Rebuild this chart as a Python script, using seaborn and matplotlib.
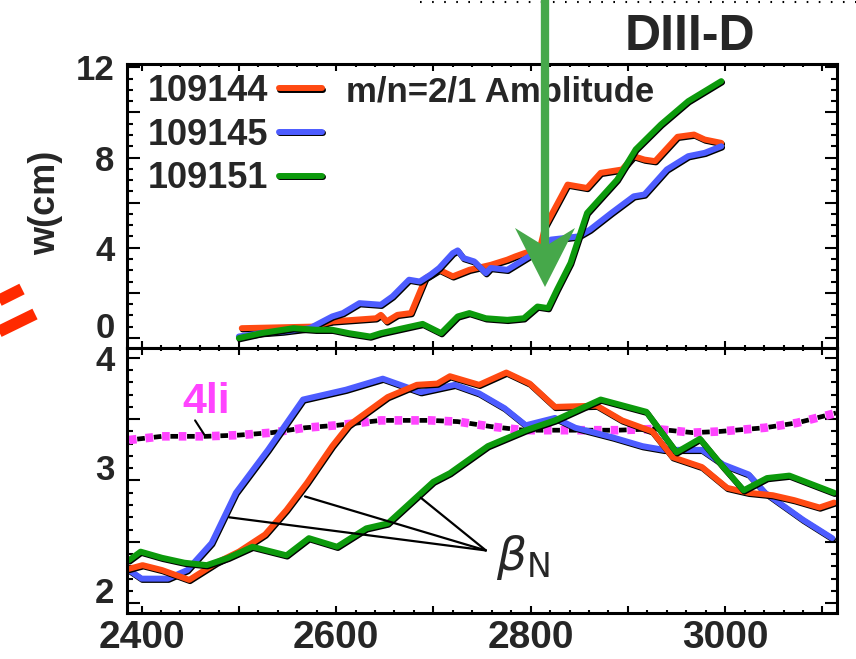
import matplotlib
matplotlib.use("Agg")
import matplotlib.pyplot as plt
import matplotlib.patheffects as pe
from matplotlib.lines import Line2D
from matplotlib.patches import Polygon
from matplotlib.ticker import MultipleLocator, FuncFormatter
import seaborn as sns

# ---------- dados: amplitude da ilha m/n=2/1 (painel de cima) ----------
t_w144 = [2503, 2576, 2596, 2641, 2646, 2652, 2663, 2677, 2692, 2706, 2720, 2737, 2759, 2776,
          2784, 2799, 2810, 2815, 2838, 2858, 2872, 2894, 2906, 2917, 2928, 2951, 2968, 2979, 2996]
w144 = [0.43, 0.50, 0.73, 0.87, 1.02, 0.73, 1.02, 1.10, 2.65, 3.02, 2.73, 3.02, 3.24, 3.47,
        3.61, 3.84, 4.06, 4.95, 6.80, 6.65, 7.32, 7.47, 8.06, 7.91, 7.84, 8.92, 9.02, 8.80, 8.65]

t_w145 = [2500, 2523, 2545, 2573, 2596, 2607, 2624, 2646, 2658, 2675, 2686, 2697, 2706, 2720,
          2725, 2731, 2742, 2754, 2759, 2776, 2793, 2804, 2815, 2821, 2849, 2861, 2883, 2906,
          2917, 2940, 2962, 2979, 2996]
w145 = [0.06, 0.21, 0.28, 0.43, 0.95, 1.10, 1.54, 1.47, 1.84, 2.58, 2.50, 2.80, 3.10, 3.76,
        3.88, 3.54, 3.39, 2.87, 3.10, 3.02, 3.47, 3.76, 4.13, 4.36, 4.50, 4.80, 5.54, 6.28,
        6.36, 7.47, 8.06, 8.21, 8.50]

t_w151 = [2500, 2523, 2556, 2579, 2596, 2613, 2635, 2646, 2669, 2689, 2708, 2725, 2737, 2754,
          2776, 2793, 2807, 2818, 2827, 2841, 2858, 2889, 2908, 2934, 2962, 2996]
w151 = [-0.01, 0.21, 0.43, 0.36, 0.36, 0.21, 0.06, 0.21, 0.43, 0.62, 0.21, 0.95, 1.10, 0.87,
        0.80, 0.87, 1.39, 1.32, 2.13, 3.32, 5.54, 7.02, 8.36, 9.47, 10.5, 11.39]

# ---------- dados: beta_N e 4li (painel de baixo) ----------
t_b144 = [2387, 2401, 2421, 2449, 2477, 2500, 2527, 2549, 2570, 2596, 2613, 2653, 2683, 2704,
          2717, 2747, 2775, 2799, 2825, 2868, 2894, 2925, 2946, 2976, 3002, 3024, 3049, 3071,
          3097, 3112]
b144 = [2.28, 2.31, 2.27, 2.19, 2.33, 2.42, 2.56, 2.76, 2.98, 3.28, 3.45, 3.68, 3.78, 3.79,
        3.85, 3.78, 3.88, 3.79, 3.60, 3.61, 3.49, 3.40, 3.19, 3.11, 2.94, 2.90, 2.88, 2.84,
        2.78, 2.82]

t_b145 = [2387, 2400, 2427, 2447, 2472, 2497, 2530, 2566, 2610, 2648, 2687, 2722, 2747, 2773,
          2795, 2825, 2846, 2885, 2915, 2937, 2976, 2998, 3024, 3041, 3080, 3110]
b145 = [2.27, 2.20, 2.20, 2.27, 2.49, 2.90, 3.25, 3.66, 3.74, 3.83, 3.72, 3.78, 3.71, 3.59,
        3.45, 3.51, 3.43, 3.35, 3.28, 3.25, 3.25, 3.13, 3.05, 2.90, 2.68, 2.53]

t_b151 = [2387, 2399, 2421, 2444, 2467, 2489, 2514, 2549, 2572, 2601, 2631, 2653, 2700, 2717,
          2756, 2795, 2825, 2872, 2919, 2950, 2974, 2998, 3019, 3043, 3066, 3112]
b151 = [2.35, 2.42, 2.37, 2.33, 2.31, 2.37, 2.46, 2.39, 2.53, 2.46, 2.61, 2.65, 2.99, 3.06,
        3.28, 3.41, 3.49, 3.66, 3.56, 3.23, 3.34, 3.11, 2.92, 3.02, 3.04, 2.90]

t_li = [2387, 2421, 2466, 2500, 2534, 2568, 2601, 2646, 2697, 2725, 2759, 2793, 2843, 2889,
        2928, 2967, 2995, 3041, 3074, 3114]
li4 = [3.33, 3.36, 3.36, 3.37, 3.39, 3.43, 3.45, 3.49, 3.49, 3.48, 3.44, 3.41, 3.41, 3.41,
       3.42, 3.39, 3.40, 3.43, 3.47, 3.55]

disparos = ["109144", "109145", "109151"]
cores = ["#ff4a12", "#4d5cff", "#0c9a0c"]

sns.set_style("ticks")
plt.rcParams["font.family"] = ["Liberation Sans Narrow", "Liberation Sans", "DejaVu Sans"]
plt.rcParams["lines.scale_dashes"] = False
plt.rcParams["mathtext.fontset"] = "dejavusans"

W, H = 856, 659
def px(x, y):
    return (x / W, 1 - y / H)

fig = plt.figure(figsize=(W / 100, H / 100), dpi=100)
ax1 = fig.add_axes([127 / W, 1 - 348 / H, 710 / W, 284 / H])
ax2 = fig.add_axes([127 / W, 1 - 613 / H, 710 / W, 265 / H])

sombra = [pe.SimpleLineShadow(offset=(0.6, -0.9), shadow_color="black", alpha=1.0), pe.Normal()]

# painel de cima
for t, w, lab, c in zip([t_w144, t_w145, t_w151], [w144, w145, w151], disparos, cores):
    sns.lineplot(x=t, y=w, ax=ax1, color=c, linewidth=4.3, label=lab, path_effects=sombra)

# painel de baixo: 4li pontilhado (magenta sobre preto)
ax2.plot(t_li, li4, color="black", lw=3.4, linestyle=(6.0, (5.5, 6.5)))
ax2.plot(t_li, li4, color="#ff44ff", lw=6.2, linestyle=(0, (5.5, 6.5)))
for t, b, c in zip([t_b145, t_b144, t_b151], [b145, b144, b151], [cores[1], cores[0], cores[2]]):
    sns.lineplot(x=t, y=b, ax=ax2, color=c, linewidth=4.3, path_effects=sombra, legend=False)

# legenda
h, l = ax1.get_legend_handles_labels()
ax1.legend(h, l, loc="upper left", bbox_to_anchor=(0.029, 0.965), markerfirst=False,
           frameon=False, borderpad=0, borderaxespad=0, handlelength=1.2,
           handletextpad=0.3, labelspacing=0.24,
           prop=dict(weight="bold", size=26))
ax1.text(0.308, 0.901, "m/n=2/1 Amplitude", transform=ax1.transAxes, fontsize=25,
         fontweight="bold", va="center", ha="left")

# eixos
for ax in (ax1, ax2):
    ax.set_xlim(2385, 3115)
    ax.set_xlabel("")
    ax.set_ylabel("")
    ax.xaxis.set_major_locator(MultipleLocator(100))
    ax.xaxis.set_minor_locator(MultipleLocator(20))
    ax.xaxis.set_major_formatter(FuncFormatter(lambda v, p: f"{v:.0f}" if round(v) % 200 == 0 else ""))
    ax.tick_params(which="both", direction="in", top=True, right=True, width=1.5, color="black")
    ax.tick_params(axis="y", which="major", length=9, pad=9, labelsize=25)
    ax.tick_params(axis="y", which="minor", length=4.5)
    ax.tick_params(axis="x", which="major", length=5, pad=5, labelsize=28)
    ax.tick_params(axis="x", which="minor", length=2.5)
    for sp in ax.spines.values():
        sp.set_linewidth(2.2)
        sp.set_color("black")

ax1.set_ylim(-0.45, 12.15)
ax1.yaxis.set_major_locator(MultipleLocator(2))
ax1.yaxis.set_minor_locator(MultipleLocator(0.5))
ax1.yaxis.set_major_formatter(FuncFormatter(lambda v, p: f"{v:.0f}" if round(v) % 4 == 0 else ""))
ax1.tick_params(labelbottom=False)

ax2.set_ylim(1.92, 4.08)
ax2.yaxis.set_major_locator(MultipleLocator(0.5))
ax2.yaxis.set_minor_locator(MultipleLocator(0.1))
ax2.yaxis.set_major_formatter(FuncFormatter(lambda v, p: f"{v:.0f}" if abs(v - round(v)) < 1e-6 else ""))

fig.canvas.draw()
for ax in (ax1, ax2):
    for lbl in ax.get_xticklabels() + ax.get_yticklabels():
        lbl.set_fontweight("bold")
# rótulos do eixo y deslocados como no original
for lbl in ax1.get_yticklabels():
    if lbl.get_text() == "0":
        lbl.set_va("baseline")
for lbl in ax2.get_yticklabels():
    if lbl.get_text() in ("2", "3"):
        lbl.set_va("baseline")

# anotações do painel de baixo
ax2.text(2442, 3.64, "4li", color="#ff44ff", fontsize=31, fontweight="bold",
         family=["Liberation Sans", "DejaVu Sans"], va="center", ha="left")
ax2.annotate("", xy=(2466, 3.355), xytext=(2455, 3.49),
             arrowprops=dict(arrowstyle="-", lw=1.5, color="black", shrinkA=0, shrinkB=0))
for pt in [(2490, 2.70), (2568, 2.87), (2687, 2.86)]:
    ax2.annotate("", xy=pt, xytext=(2754, 2.43),
                 arrowprops=dict(arrowstyle="-", lw=1.6, color="black", shrinkA=0, shrinkB=0))
ax2.text(2764, 2.37, r"$\beta_\mathrm{N}$", fontsize=34, va="center", ha="left")

# rótulo do eixo y
fig.text(*px(46, 203), "w(cm)", rotation=90, fontsize=26, fontweight="bold",
         family=["Liberation Sans", "DejaVu Sans"], ha="center", va="center")

# elementos do slide
fig.text(*px(690, 37), "DIII-D", fontsize=36, fontweight="bold",
         family=["Liberation Sans", "DejaVu Sans"], ha="center", va="center")
fig.add_artist(Line2D([420 / W, 1], [1 - 1.5 / H] * 2, color="black", lw=1.5,
                      linestyle=(0, (1.2, 7.5)), transform=fig.transFigure))
verde = "#46a84a"
fig.add_artist(Line2D([545 / W, 545 / W], [1 + 2 / H, 1 - 245 / H], color=verde, lw=6,
                      solid_capstyle="butt", transform=fig.transFigure))
fig.add_artist(Polygon([px(515, 228), px(541, 244), px(549, 244), px(575, 228), px(545, 287)],
                       closed=True, facecolor=verde, edgecolor="none", transform=fig.transFigure))
for x0, y0, x1, y1 in [(-10, 305, 22, 289), (-10, 336, 35, 314)]:
    fig.add_artist(Line2D([x0 / W, x1 / W], [1 - y0 / H, 1 - y1 / H], color="#ff2a00", lw=8.5,
                          solid_capstyle="butt", transform=fig.transFigure))

plt.savefig("out.png", dpi=100)
